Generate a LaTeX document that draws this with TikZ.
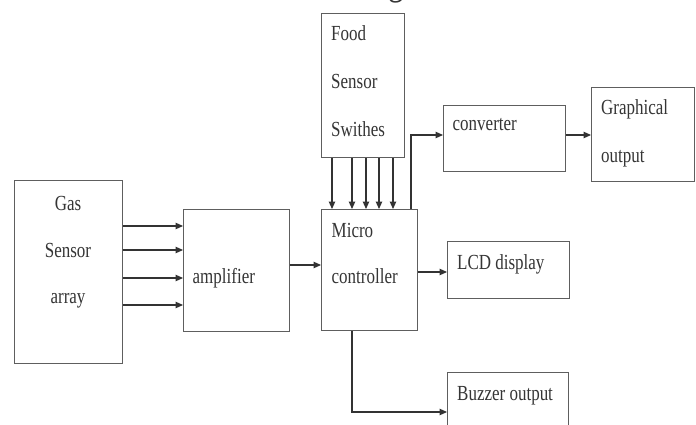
\documentclass[tikz,border=0pt]{standalone}
\usepackage{fontspec}
\setmainfont{Liberation Serif}[FakeStretch=0.79]
\usetikzlibrary{arrows.meta}
\definecolor{linec}{HTML}{5E5E5E}
\definecolor{textc}{HTML}{353535}
\tikzset{
  box/.style={draw=linec, line width=1.1pt, anchor=north west, inner sep=0pt},
  lbl/.style={anchor=base west, inner sep=0pt, text=textc, font=\fontsize{21.5}{24}\selectfont},
  clbl/.style={anchor=base, inner sep=0pt, text=textc, font=\fontsize{21.5}{24}\selectfont},
  arr/.style={draw=black!80, line width=1.1pt, -{Triangle[length=7.5pt,width=6.5pt]}},
}
\begin{document}
\begin{tikzpicture}[x=1pt,y=-1pt]
\useasboundingbox (0,0) rectangle (696,425);
\fill[white] (0,0) rectangle (696,425);
\clip (0,0) rectangle (696,425);
% cut-off title glyph
\node[anchor=base, inner sep=0pt, text=textc, font=\fontsize{40}{44}\selectfont] (title) at (396,-5) {g};
% boxes
\node[box, minimum width=108pt, minimum height=183pt] (gas) at (14,180) {};
\node[box, minimum width=106pt, minimum height=122pt] (amp) at (183,209) {};
\node[box, minimum width=96pt, minimum height=121pt] (micro) at (321,209) {};
\node[box, minimum width=83pt, minimum height=144pt] (food) at (321,13) {};
\node[box, minimum width=122pt, minimum height=66pt] (conv) at (443,105) {};
\node[box, minimum width=103pt, minimum height=94pt] (graph) at (591,87) {};
\node[box, minimum width=122pt, minimum height=57pt] (lcd) at (447,241) {};
\node[box, minimum width=121pt, minimum height=80pt] (buzz) at (447,372) {};
% labels
\node[clbl] (t1) at (68,210.5) {Gas};
\node[clbl] (t2) at (68,257) {Sensor};
\node[clbl] (t3) at (68,303) {array};
\node[lbl] (t4) at (192.5,283) {amplifier};
\node[lbl] (t5) at (331,41) {Food};
\node[lbl] (t6) at (331,88.5) {Sensor};
\node[lbl] (t7) at (331,136) {Swithes};
\node[lbl] (t8) at (331.5,237) {Micro};
\node[lbl] (t9) at (331.5,283) {controller};
\node[lbl] (t10) at (452.5,131) {converter};
\node[lbl] (t11) at (601,115) {Graphical};
\node[lbl] (t12) at (601,162) {output};
\node[lbl] (t13) at (457,269) {LCD display};
\node[lbl] (t14) at (457,400) {Buzzer output};
% connectors
\foreach \yy in {226,250,278,305}
  \draw[arr] (gas.east |- 0,\yy) -- (amp.west |- 0,\yy);
\draw[arr] (amp.east |- 0,265) -- (micro.west |- 0,265);
\foreach \xx in {332,352,366,379,393}
  \draw[arr] (food.south -| \xx,0) -- (micro.north -| \xx,0);
\draw[arr] (micro.north -| 411,0) |- (conv.west |- 0,135);
\draw[arr] (conv.east |- 0,135) -- (graph.west |- 0,135);
\draw[arr] (micro.east |- 0,272) -- (lcd.west |- 0,272);
\draw[arr] (micro.south -| 352,0) |- (buzz.west |- 0,412);
\end{tikzpicture}
\end{document}
